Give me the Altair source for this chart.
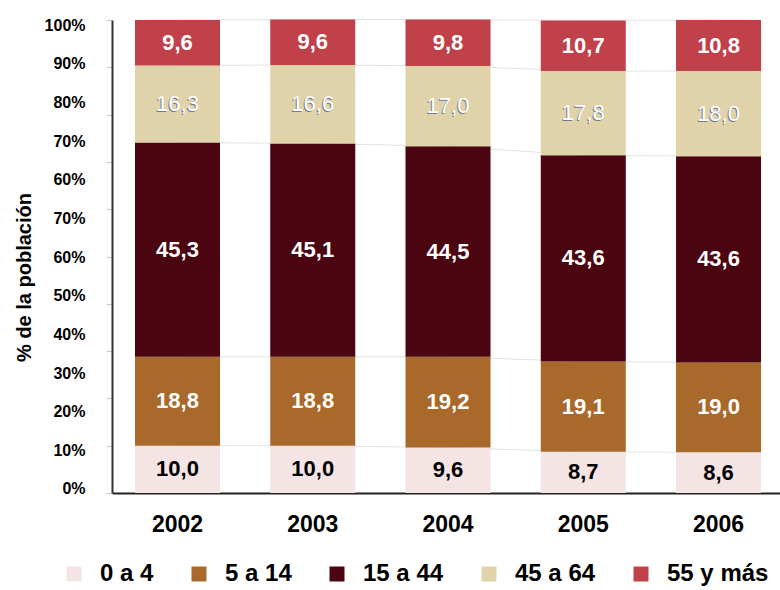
import altair as alt
import pandas as pd

years = ['2002', '2003', '2004', '2005', '2006']
groups = ['0 a 4', '5 a 14', '15 a 44', '45 a 64', '55 y más']
v_0a4 = [10.0, 10.0, 9.6, 8.7, 8.6]
v_5a14 = [18.8, 18.8, 19.2, 19.1, 19.0]
v_15a44 = [45.3, 45.1, 44.5, 43.6, 43.6]
v_45a64 = [16.3, 16.6, 17.0, 17.8, 18.0]
v_55mas = [9.6, 9.6, 9.8, 10.7, 10.8]
colors = ['#f4e4e4', '#a8692b', '#4a0511', '#e0d2a9', '#c0414a']
ytick_labels = ['0%', '10%', '20%', '30%', '40%', '50%', '60%', '70%',
                '60%', '70%', '80%', '90%', '100%']
y_title = '% de la población'

series = [v_0a4, v_5a14, v_15a44, v_45a64, v_55mas]
rows = []
for gi, (g, vals) in enumerate(zip(groups, series)):
    for yr, v in zip(years, vals):
        rows.append({'year': yr, 'group': g, 'order': gi, 'value': v})
df = pd.DataFrame(rows)

FONT = 'Liberation Sans'

# evenly spaced label positions (as in the reference) along the 0-100 scale
lo, hi = 0.85, 98.9
n = len(ytick_labels) - 1
label_vals = [lo + i * (hi - lo) / n for i in range(n + 1)]
label_arr = '[' + ','.join("'" + s + "'" for s in ytick_labels) + ']'
label_expr = f"{label_arr}[round((datum.value - {lo}) * {n} / {hi - lo})]"

yscale = alt.Scale(domain=[0, 100], nice=False, zero=True)
xscale = alt.Scale(paddingInner=0.3715, paddingOuter=0.155, align=0.548)

base = alt.Chart(df).transform_stack(
    stack='value', groupby=['year'], as_=['y0', 'y1'],
    sort=[alt.SortField('order', order='ascending')]
).transform_calculate(
    mid='(datum.y0 + datum.y1) / 2',
    label="replace(format(datum.value, '.1f'), '.', ',')"
)

xaxis = alt.Axis(title=None, labelAngle=0, labelFont=FONT, labelFontSize=23,
                 labelFontWeight='bold', labelColor='black', ticks=False,
                 domainColor='#222222', domainWidth=2, labelPadding=20)
xenc = alt.X('year:N', scale=xscale, sort=years, axis=xaxis)

lines = base.mark_line(color='#e2e2e2', strokeWidth=1).encode(
    x=xenc,
    y=alt.Y('y1:Q', scale=yscale, axis=None),
    detail='group:N'
)

bars = base.mark_bar().encode(
    x=xenc,
    y=alt.Y('y0:Q', scale=yscale,
            axis=alt.Axis(orient='left', values=list(range(0, 101, 10)), labels=False,
                          tickColor='#c8c8c8', tickSize=6, domainColor='#333333',
                          domainWidth=2, grid=False, title=None)),
    y2='y1:Q',
    color=alt.Color('group:N', scale=alt.Scale(domain=groups, range=colors),
                    legend=alt.Legend(orient='none', legendX=-50, legendY=542,
                                      direction='horizontal', title=None,
                                      symbolType='square', symbolSize=225,
                                      symbolStrokeWidth=0, symbolOpacity=1,
                                      labelFont=FONT, labelFontWeight='bold',
                                      labelFontSize=24, labelColor='black',
                                      columnPadding=33, labelOffset=14))
)

yaxis_labels = alt.Axis(orient='left', values=label_vals, labelExpr=label_expr,
                        ticks=False, domain=False, grid=False, labelFont=FONT,
                        labelFontSize=16, labelFontWeight='bold', labelColor='black',
                        labelPadding=27, labelFlush=False, labelOverlap=False,
                        labelBound=False, title=y_title, titleFont=FONT,
                        titleFontSize=20, titleFontWeight='bold', titleColor='black',
                        titleAngle=270, titleX=-78, titleY=257, titleAlign='center',
                        titleBaseline='bottom')

def txt(filter_expr, fill, weight, dx=0, dy=0, axis=None):
    return base.transform_filter(filter_expr).mark_text(
        font=FONT, fontSize=22, fontWeight=weight, color=fill, dx=dx, dy=dy,
        align='center', baseline='middle'
    ).encode(
        x=xenc,
        y=alt.Y('mid:Q', scale=yscale, axis=axis),
        text='label:N'
    )

t_black = txt('datum.order == 0', 'black', 'bold', axis=yaxis_labels)
t_white = txt('datum.order == 1 || datum.order == 2 || datum.order == 4', 'white', 'bold')
t_shadow = txt('datum.order == 3', '#6d7b8c', 'normal', dx=-1, dy=1)
t_white2 = txt('datum.order == 3', 'white', 'normal')

chart = alt.layer(lines, bars, t_black, t_white, t_shadow, t_white2).resolve_axis(
    y='independent'
).properties(
    width=668, height=473,
    padding={'left': 112, 'top': 20, 'right': 0, 'bottom': 97},
    autosize=alt.AutoSizeParams(type='none'),
    background='white'
).configure_view(stroke=None)

chart.save('out.html', embed_options={'renderer': 'svg', 'actions': False})
